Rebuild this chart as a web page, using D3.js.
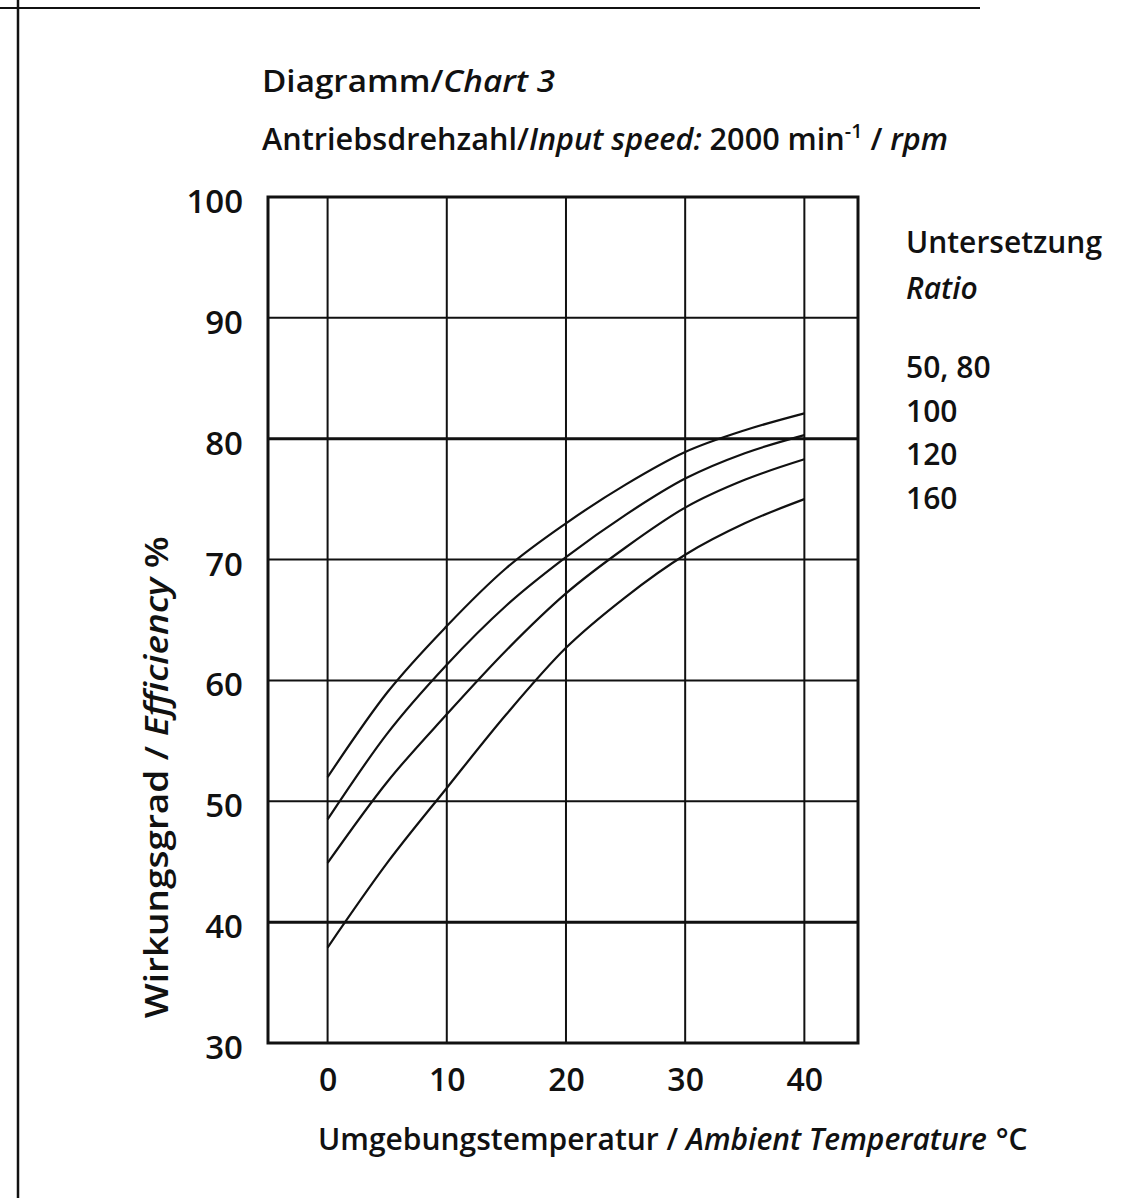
<!DOCTYPE html>
<html lang="de">
<head>
<meta charset="utf-8">
<title>Diagramm 3</title>
<script src="https://cdn.jsdelivr.net/npm/d3@7"></script>
<style>
  body { margin: 0; background: #fff; }
  #chart { width: 1139px; height: 1198px; }
  text { font-family: "Open Sans", sans-serif; fill: #111; font-weight: 600; }
</style>
</head>
<body>
<div id="chart"></div>
<script>
// Umgebungstemperatur (°C) an den Stützstellen
const temps = [0, 5, 10, 15, 20, 25, 30, 35, 40];

// Wirkungsgrad % je Untersetzung
const eff50_80 = [52.0, 59.0, 64.5, 69.3, 73.0, 76.2, 78.9, 80.7, 82.1];
const eff100   = [48.5, 55.6, 61.3, 66.2, 70.2, 73.7, 76.7, 78.8, 80.3];
const eff120   = [44.9, 51.6, 57.2, 62.5, 67.2, 71.0, 74.3, 76.6, 78.3];
const eff160   = [37.9, 44.9, 51.1, 57.2, 62.7, 66.9, 70.4, 73.0, 75.0];

const ratioLabels = ["50, 80", "100", "120", "160"];
const xTicks = [0, 10, 20, 30, 40];
const yTicks = [30, 40, 50, 60, 70, 80, 90, 100];

const width = 1139;
const height = 1198;

const svg = d3.select("#chart")
  .append("svg")
  .attr("width", width)
  .attr("height", height)
  .attr("viewBox", `0 0 ${width} ${height}`);

const x = d3.scaleLinear().domain([-5, 44.5]).range([268, 858]);
const y = d3.scaleLinear().domain([30, 100]).range([1043, 197]);

// Scan-Ränder (Blattkante)
svg.append("line")
  .attr("x1", 0).attr("x2", 980).attr("y1", 8).attr("y2", 8)
  .attr("stroke", "#111").attr("stroke-width", 2);
svg.append("line")
  .attr("x1", 18).attr("x2", 18).attr("y1", 0).attr("y2", height)
  .attr("stroke", "#111").attr("stroke-width", 2.5);

// Gitter
const grid = svg.append("g").attr("stroke", "#111");
grid.selectAll("line.v")
  .data(xTicks)
  .join("line")
  .attr("class", "v")
  .attr("x1", d => x(d)).attr("x2", d => x(d))
  .attr("y1", y(100)).attr("y2", y(30))
  .attr("stroke-width", 2);
grid.selectAll("line.h")
  .data(yTicks.filter(d => d > 30 && d < 100))
  .join("line")
  .attr("class", "h")
  .attr("x1", x(-5)).attr("x2", x(44.5))
  .attr("y1", d => y(d)).attr("y2", d => y(d))
  .attr("stroke-width", d => (d === 80 || d === 40) ? 3 : 2);

// Rahmen
svg.append("rect")
  .attr("x", x(-5)).attr("y", y(100))
  .attr("width", x(44.5) - x(-5)).attr("height", y(30) - y(100))
  .attr("fill", "none").attr("stroke", "#111").attr("stroke-width", 3);

// Kurven
const series = [eff50_80, eff100, eff120, eff160];
const line = d3.line()
  .x((d, i) => x(temps[i]))
  .y(d => y(d))
  .curve(d3.curveMonotoneX);

svg.append("g")
  .selectAll("path")
  .data(series)
  .join("path")
  .attr("d", line)
  .attr("fill", "none")
  .attr("stroke", "#111")
  .attr("stroke-width", 2.2);

// Achsen
const yAxis = svg.append("g")
  .attr("transform", `translate(${x(-5) - 22},5)`)
  .call(d3.axisLeft(y).tickValues(yTicks).tickSize(0).tickFormat(d3.format("d")));
yAxis.select(".domain").remove();
yAxis.selectAll("text")
  .style("font-size", "33px")
  .style("font-family", "'Open Sans', sans-serif")
  .attr("fill", "#111");

const xAxis = svg.append("g")
  .attr("transform", `translate(0,${y(30) + 22})`)
  .call(d3.axisBottom(x).tickValues(xTicks).tickSize(0).tickFormat(d3.format("d")));
xAxis.select(".domain").remove();
xAxis.selectAll("text")
  .style("font-size", "32px")
  .style("font-family", "'Open Sans', sans-serif")
  .attr("fill", "#111");

// Titel
const title1 = svg.append("text").attr("x", 262).attr("y", 92)
  .style("font-size", "31px")
  .attr("textLength", 293).attr("lengthAdjust", "spacingAndGlyphs");
title1.append("tspan").text("Diagramm/");
title1.append("tspan").style("font-style", "italic").text("Chart 3");

const title2 = svg.append("text").attr("x", 262).attr("y", 150)
  .style("font-size", "31px")
  .attr("textLength", 686).attr("lengthAdjust", "spacingAndGlyphs");
title2.append("tspan").text("Antriebsdrehzahl/");
title2.append("tspan").style("font-style", "italic").text("Input speed:");
title2.append("tspan").text(" 2000 min");
title2.append("tspan").attr("dy", -12).style("font-size", "20px").text("-1");
title2.append("tspan").attr("dy", 12).text(" / ");
title2.append("tspan").style("font-style", "italic").text("rpm");

// Legende
svg.append("text").attr("x", 906).attr("y", 253).style("font-size", "30px")
  .attr("textLength", 196).attr("lengthAdjust", "spacingAndGlyphs")
  .text("Untersetzung");
svg.append("text").attr("x", 906).attr("y", 299).style("font-size", "30px")
  .style("font-style", "italic").text("Ratio");
svg.append("g")
  .selectAll("text")
  .data(ratioLabels)
  .join("text")
  .attr("x", 906)
  .attr("y", (d, i) => 378 + i * 43.5)
  .style("font-size", "30px")
  .text(d => d);

// Achsentitel
const yt = svg.append("text")
  .attr("transform", `translate(168,${(y(30) + y(70)) / 2 - 24}) rotate(-90)`)
  .attr("text-anchor", "middle")
  .style("font-size", "33px")
  .attr("textLength", 482).attr("lengthAdjust", "spacingAndGlyphs");
yt.append("tspan").text("Wirkungsgrad / ");
yt.append("tspan").style("font-style", "italic").text("Efficiency");
yt.append("tspan").text("  %");

const xt = svg.append("text")
  .attr("x", 318).attr("y", 1150)
  .style("font-size", "30px");
xt.append("tspan").text("Umgebungstemperatur / ");
xt.append("tspan").style("font-style", "italic").text("Ambient Temperature");
const xtEnd = 318 + xt.node().getComputedTextLength();
svg.append("text")
  .attr("x", xtEnd + 9).attr("y", 1150)
  .style("font-size", "30px")
  .text("°C");
</script>
</body>
</html>
